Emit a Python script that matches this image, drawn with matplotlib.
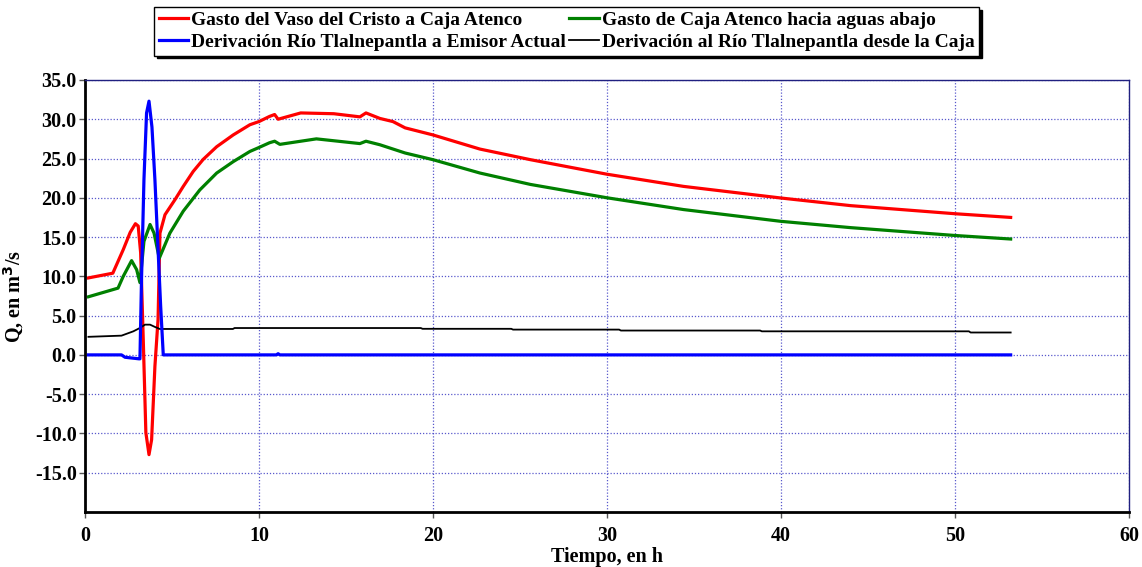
import matplotlib
matplotlib.use("Agg")
from matplotlib import pyplot as plt

# caudal del Vaso del Cristo a Caja Atenco (rojo)
t_rojo = [0.2, 1.6, 2.2, 2.6, 2.9, 3.06, 3.2, 3.35, 3.5, 3.68, 3.83, 4.02, 4.2, 4.31,
          4.6, 5.17, 5.65, 6.22, 6.8, 7.57, 8.52, 9.48, 10.0, 10.6, 10.9, 11.1, 12.4,
          14.3, 15.8, 16.15, 16.95, 17.7, 18.4, 20.0, 22.7, 25.6, 28.45, 30.0, 34.4,
          40.0, 44.0, 50.0, 53.2]
q_rojo = [9.8, 10.4, 13.4, 15.6, 16.7, 16.4, 13.0, 1.95, -9.9, -12.7, -10.8, -1.45, 4.5, 15.5,
          17.85, 19.75, 21.45, 23.35, 24.9, 26.5, 28.0, 29.3, 29.7, 30.35, 30.6, 30.0, 30.8,
          30.7, 30.3, 30.8, 30.1, 29.7, 28.9, 28.0, 26.2, 24.85, 23.65, 23.0, 21.45,
          19.97, 19.0, 17.97, 17.5]

# caudal de Caja Atenco hacia aguas abajo (verde)
t_verde = [0.2, 1.9, 2.2, 2.68, 2.97, 3.16, 3.39, 3.74, 3.97, 4.27, 4.88, 5.65, 6.6,
           7.57, 8.52, 9.48, 10.0, 10.6, 10.9, 11.2, 13.3, 15.8, 16.15, 16.95, 18.4,
           20.0, 22.7, 25.6, 28.45, 30.0, 34.4, 40.0, 44.0, 50.0, 53.2]
q_verde = [7.4, 8.5, 10.0, 12.0, 10.85, 9.2, 14.45, 16.6, 15.5, 12.3, 15.5, 18.3, 21.0,
           23.15, 24.6, 25.9, 26.4, 27.0, 27.2, 26.8, 27.5, 26.9, 27.2, 26.75, 25.7,
           24.85, 23.15, 21.7, 20.6, 20.0, 18.5, 17.0, 16.2, 15.2, 14.75]

# derivacion Rio Tlalnepantla a Emisor Actual (azul)
t_azul = [0.2, 2.1, 2.3, 3.1, 3.16, 3.25, 3.39, 3.54, 3.68, 3.85, 4.02, 4.21, 4.35, 4.5,
          11.0, 11.1, 11.2, 53.2]
q_azul = [0.0, 0.0, -0.3, -0.5, -0.5, 9.6, 22.3, 30.8, 32.3, 29.0, 22.3, 13.0, 6.2, 0.0,
          0.0, 0.15, 0.0, 0.0]

# derivacion al Rio Tlalnepantla desde la Caja (negro)
t_negro = [0.2, 2.1, 2.78, 3.16, 3.45, 3.74, 4.02, 4.3, 8.5, 8.6, 19.3, 19.4, 24.5, 24.6,
           30.7, 30.8, 38.8, 38.9, 50.8, 50.9, 53.2]
q_negro = [2.3, 2.45, 3.0, 3.43, 3.85, 3.85, 3.56, 3.3, 3.3, 3.42, 3.42, 3.32, 3.32, 3.22,
           3.22, 3.1, 3.1, 3.0, 3.0, 2.85, 2.85]

etiquetas = ["Gasto del Vaso del Cristo a Caja Atenco",
             "Derivación Río Tlalnepantla a Emisor Actual",
             "Gasto de Caja Atenco hacia aguas abajo",
             "Derivación al Río Tlalnepantla desde la Caja"]

plt.rcParams['font.family'] = ['Liberation Serif', 'DejaVu Serif']
plt.rcParams['font.weight'] = 'bold'

fig = plt.figure(figsize=(11.42, 5.67), dpi=100)
ax = fig.add_axes([0.0744, 0.097, 0.9142, 0.762])

l1, = ax.plot(t_rojo, q_rojo, color='#ff0000', lw=2.3)
l3, = ax.plot(t_verde, q_verde, color='#008000', lw=2.3)
l4, = ax.plot(t_negro, q_negro, color='black', lw=1.3)
l2, = ax.plot(t_azul, q_azul, color='#0000ff', lw=2.3)

ax.set_xlim(0, 60)
ax.set_ylim(-20, 35)
ax.set_xticks(range(0, 61, 10))
ax.set_yticks(range(-15, 36, 5))
ax.set_yticklabels(["%.1f" % v for v in range(-15, 36, 5)])
ax.grid(True, color='#3030c0', linestyle=(0, (1, 1.5)), linewidth=0.9, alpha=0.8)
ax.tick_params(labelsize=14.5, length=4, width=1, color='#555555')
ax.tick_params(axis='x', pad=6)
ax.tick_params(axis='y', pad=2)
for s in ['left', 'bottom']:
    ax.spines[s].set_linewidth(2)
    ax.spines[s].set_color('black')
for s in ['top', 'right']:
    ax.spines[s].set_linewidth(1)
    ax.spines[s].set_color('#202080')

ax.set_xlabel("Tiempo, en h", fontsize=14.5, fontweight='bold', labelpad=1)
ax.set_ylabel("Q, en m$^3$/s", fontsize=14.5, fontweight='bold', labelpad=6)

leg = fig.legend([l1, l2, l3, l4], etiquetas, ncol=2, loc='upper center',
                 bbox_to_anchor=(0.496, 0.995), fontsize=14, frameon=True,
                 fancybox=False, shadow={'color': 'black', 'alpha': 1},
                 edgecolor='black', handlelength=1.5, handletextpad=0.15,
                 columnspacing=0.2, labelspacing=0.2, borderpad=0.25,
                 borderaxespad=0.2)
leg.get_frame().set_linewidth(1)

fig.savefig("out.png", dpi=100)
